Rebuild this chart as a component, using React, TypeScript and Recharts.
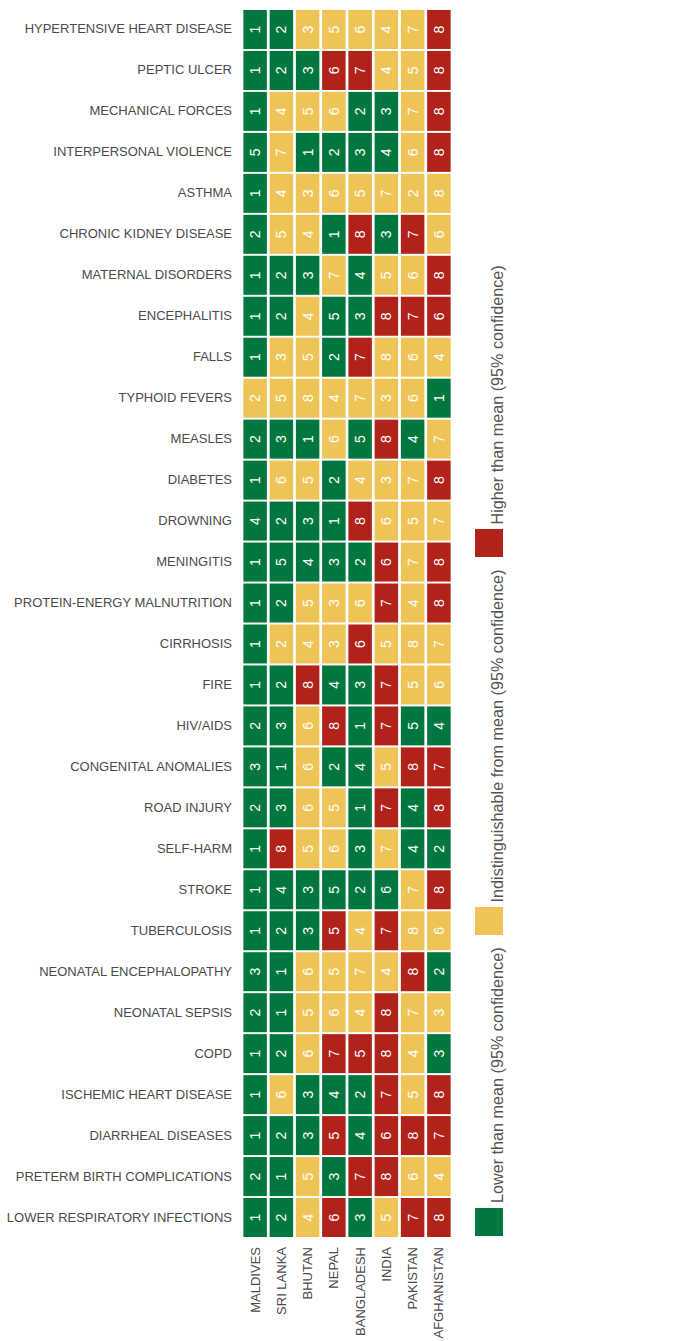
import React from "react";
import { ScatterChart, Scatter, XAxis, YAxis, Legend } from "recharts";

const COUNTRIES = ["MALDIVES", "SRI LANKA", "BHUTAN", "NEPAL", "BANGLADESH", "INDIA", "PAKISTAN", "AFGHANISTAN"];

const CAUSES = [
  "HYPERTENSIVE HEART DISEASE",
  "PEPTIC ULCER",
  "MECHANICAL FORCES",
  "INTERPERSONAL VIOLENCE",
  "ASTHMA",
  "CHRONIC KIDNEY DISEASE",
  "MATERNAL DISORDERS",
  "ENCEPHALITIS",
  "FALLS",
  "TYPHOID FEVERS",
  "MEASLES",
  "DIABETES",
  "DROWNING",
  "MENINGITIS",
  "PROTEIN-ENERGY MALNUTRITION",
  "CIRRHOSIS",
  "FIRE",
  "HIV/AIDS",
  "CONGENITAL ANOMALIES",
  "ROAD INJURY",
  "SELF-HARM",
  "STROKE",
  "TUBERCULOSIS",
  "NEONATAL ENCEPHALOPATHY",
  "NEONATAL SEPSIS",
  "COPD",
  "ISCHEMIC HEART DISEASE",
  "DIARRHEAL DISEASES",
  "PRETERM BIRTH COMPLICATIONS",
  "LOWER RESPIRATORY INFECTIONS",
];

// Rank per cause (rows) for each country (columns)
const RANKS = [
  [1, 2, 3, 5, 6, 4, 7, 8],
  [1, 2, 3, 6, 7, 4, 5, 8],
  [1, 4, 5, 6, 2, 3, 7, 8],
  [5, 7, 1, 2, 3, 4, 6, 8],
  [1, 4, 3, 6, 5, 7, 2, 8],
  [2, 5, 4, 1, 8, 3, 7, 6],
  [1, 2, 3, 7, 4, 5, 6, 8],
  [1, 2, 4, 5, 3, 8, 7, 6],
  [1, 3, 5, 2, 7, 8, 6, 4],
  [2, 5, 8, 4, 7, 3, 6, 1],
  [2, 3, 1, 6, 5, 8, 4, 7],
  [1, 6, 5, 2, 4, 3, 7, 8],
  [4, 2, 3, 1, 8, 6, 5, 7],
  [1, 5, 4, 3, 2, 6, 7, 8],
  [1, 2, 5, 3, 6, 7, 4, 8],
  [1, 2, 4, 3, 6, 5, 8, 7],
  [1, 2, 8, 4, 3, 7, 5, 6],
  [2, 3, 6, 8, 1, 7, 5, 4],
  [3, 1, 6, 2, 4, 5, 8, 7],
  [2, 3, 6, 5, 1, 7, 4, 8],
  [1, 8, 5, 6, 3, 7, 4, 2],
  [1, 4, 3, 5, 2, 6, 7, 8],
  [1, 2, 3, 5, 4, 7, 8, 6],
  [3, 1, 6, 5, 7, 4, 8, 2],
  [2, 1, 5, 6, 4, 8, 7, 3],
  [1, 2, 6, 7, 5, 8, 4, 3],
  [1, 6, 3, 4, 2, 7, 5, 8],
  [1, 2, 3, 5, 4, 6, 8, 7],
  [2, 1, 5, 3, 7, 8, 6, 4],
  [1, 2, 4, 6, 3, 5, 7, 8],
];

// L = lower than mean, I = indistinguishable, H = higher than mean
const STATUS = [
  "LLIIIIIH",
  "LLLHHIIH",
  "LIIILLIH",
  "LILLLLIH",
  "LIIIIIII",
  "LIILHLHI",
  "LLLILIIH",
  "LLILLHHH",
  "LIILHIII",
  "IIIIIIIL",
  "LLLILHLI",
  "LIILIIIH",
  "LLLLHIII",
  "LLLLLHIH",
  "LLIIIHIH",
  "LIIIHIII",
  "LLHLLHII",
  "LLIHLHLL",
  "LLILLIHH",
  "LLIILHLH",
  "LHIILILL",
  "LLLLLLIH",
  "LLLHIHII",
  "LLIIIIHL",
  "LLIIIHII",
  "LLIHHHIL",
  "LILLLHIH",
  "LLLHLHHH",
  "LLILHHII",
  "LLIHLIHH",
];

const LEGEND_ITEMS = [
  { key: "L", label: "Lower than mean (95% confidence)" },
  { key: "I", label: "Indistinguishable from mean (95% confidence)" },
  { key: "H", label: "Higher than mean (95% confidence)" },
];

const COLORS: Record<string, string> = {
  L: "#00773F",
  I: "#EDC455",
  H: "#B1221B",
};

const FONT = "'Liberation Sans', Arial, Helvetica, sans-serif";

const points = CAUSES.flatMap((cause, r) =>
  COUNTRIES.map((country, c) => ({
    cause,
    country,
    rank: RANKS[r][c],
    status: STATUS[r][c],
  }))
);

const CELL_W = 23.5;
const CELL_H = 39;

const CellShape = (props: any) => {
  const { cx, cy, payload } = props;
  if (cx == null || cy == null) return null;
  return (
    <g>
      <rect
        x={cx - CELL_W / 2}
        y={cy - CELL_H / 2}
        width={CELL_W}
        height={CELL_H}
        fill={COLORS[payload.status]}
      />
      <text
        x={cx}
        y={cy}
        transform={`rotate(-90, ${cx}, ${cy})`}
        textAnchor="middle"
        dominantBaseline="central"
        fill="#ffffff"
        fontSize={14}
        fontFamily={FONT}
      >
        {payload.rank}
      </text>
    </g>
  );
};

const CountryTick = (props: any) => {
  const { x, y, payload } = props;
  return (
    <text
      x={x}
      y={y}
      transform={`rotate(-90, ${x}, ${y})`}
      textAnchor="end"
      dominantBaseline="central"
      fill="#4a4a4a"
      fontSize={13}
      fontFamily={FONT}
    >
      {payload.value}
    </text>
  );
};

const CauseTick = (props: any) => {
  const { x, y, payload } = props;
  return (
    <text
      x={x}
      y={y}
      dy={-0.5}
      textAnchor="end"
      dominantBaseline="central"
      fill="#4a4a4a"
      fontSize={13}
      fontFamily={FONT}
    >
      {payload.value}
    </text>
  );
};

const LegendContent = () => (
  <div
    style={{
      display: "flex",
      flexDirection: "row",
      alignItems: "flex-end",
      whiteSpace: "nowrap",
      fontFamily: FONT,
      fontSize: 16.2,
      color: "#555",
      height: 28,
    }}
  >
    {LEGEND_ITEMS.map((it) => (
      <div key={it.key} style={{ display: "flex", alignItems: "flex-end", marginRight: 12 }}>
        <div style={{ width: 28, height: 28, background: COLORS[it.key], marginRight: 5, flex: "none" }} />
        <span style={{ lineHeight: "16px", display: "block", marginBottom: -1.5 }}>{it.label}</span>
      </div>
    ))}
  </div>
);

export default function App() {
  return (
    <div style={{ position: "absolute", left: 0, top: 0, width: 681, height: 1341, background: "#fff" }}>
      <ScatterChart
        width={681}
        height={1341}
        margin={{ top: 9, right: 229, bottom: 0, left: 0 }}
      >
        <XAxis
          type="category"
          dataKey="country"
          scale="band"
          allowDuplicatedCategory={false}
          domain={COUNTRIES}
          ticks={COUNTRIES}
          axisLine={false}
          tickLine={false}
          tickSize={0}
          tickMargin={9}
          interval={0}
          height={103}
          tick={<CountryTick />}
        />
        <YAxis
          type="category"
          dataKey="cause"
          scale="band"
          allowDuplicatedCategory={false}
          domain={CAUSES}
          ticks={CAUSES}
          reversed
          axisLine={false}
          tickLine={false}
          tickSize={0}
          tickMargin={10}
          interval={0}
          width={242}
          tick={<CauseTick />}
        />
        <Legend
          layout="horizontal"
          verticalAlign="middle"
          align="center"
          content={<LegendContent />}
          wrapperStyle={{
            position: "absolute",
            left: 475,
            top: 1236,
            width: 1300,
            height: 28,
            transform: "rotate(-90deg)",
            transformOrigin: "top left",
          }}
        />
        <Scatter data={points} shape={<CellShape />} isAnimationActive={false} />
      </ScatterChart>
    </div>
  );
}
